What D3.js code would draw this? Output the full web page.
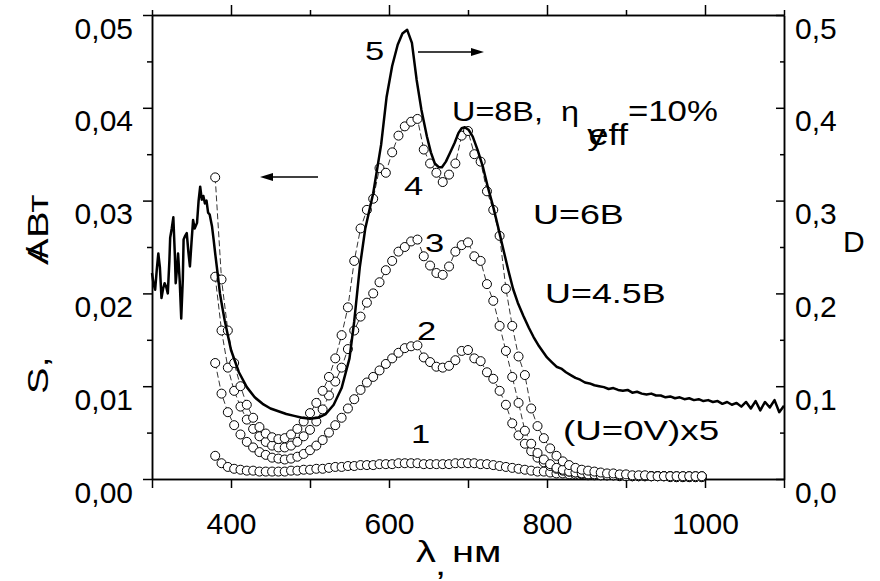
<!DOCTYPE html>
<html lang="ru">
<head>
<meta charset="UTF-8">
<title>Фоточувствительность и оптическая плотность</title>
<script src="https://d3js.org/d3.v7.min.js"></script>
<style>
body { margin: 0; background: #fff; }
svg { display: block; background: #fff; }
text { font-family: "Liberation Sans", Arial, sans-serif; fill: #000; }
</style>
</head>
<body>
<svg id="chart" width="880" height="581"></svg>
<script>

// длины волн для кривых фоточувствительности (кружки), нм
const lambdaPts = [380, 388, 396, 404, 412, 420, 428, 436, 444, 452, 460, 468, 476, 484, 492, 500,
    508, 516, 524, 532, 540, 548, 556, 564, 572, 580, 588, 596, 604, 612, 620, 628, 636, 644, 652, 660,
    668, 676, 684, 692, 700, 708, 716, 724, 732, 740, 748, 756, 764, 772, 780, 788, 796, 804, 812, 820,
    828, 836, 844, 852, 860, 868, 876, 884, 892, 900, 908, 916, 924, 932, 940, 948, 956, 964, 972, 980,
    988, 996];

// кривая 1: U=0V (x5)
const s1 = [0.0025, 0.0017, 0.0013, 0.0011, 0.0010, 0.0009, 0.0009, 0.0008, 0.0008, 0.0008, 0.0008, 0.0008,
    0.0009, 0.0009, 0.0010, 0.0010, 0.0011, 0.0011, 0.0012, 0.0013, 0.0013, 0.0014, 0.0014, 0.0015, 0.0015,
    0.0015, 0.0016, 0.0016, 0.0016, 0.0017, 0.0017, 0.0017, 0.0017, 0.0016, 0.0016, 0.0016, 0.0016, 0.0016,
    0.0017, 0.0017, 0.0017, 0.0017, 0.0016, 0.0016, 0.0015, 0.0014, 0.0013, 0.0012, 0.0011, 0.0010, 0.0009,
    0.0008, 0.0008, 0.0007, 0.0006, 0.0006, 0.0005, 0.0005, 0.0005, 0.0004, 0.0004, 0.0004, 0.0004, 0.0004,
    0.0003, 0.0003, 0.0003, 0.0003, 0.0003, 0.0003, 0.0003, 0.0003, 0.0003, 0.0003, 0.0003, 0.0003, 0.0003, 0.0003];

// кривая 2: U=4.5B
const s2 = [0.0125, 0.0092, 0.0072, 0.0058, 0.0048, 0.0040, 0.0034, 0.0029, 0.0026, 0.0023, 0.0022, 0.0021,
    0.0022, 0.0024, 0.0027, 0.0031, 0.0036, 0.0042, 0.0050, 0.0058, 0.0066, 0.0076, 0.0086, 0.0096, 0.0104,
    0.0110, 0.0117, 0.0124, 0.0130, 0.0136, 0.0141, 0.0143, 0.0144, 0.0131, 0.0126, 0.0121, 0.0120, 0.0122,
    0.0128, 0.0138, 0.0139, 0.0130, 0.0127, 0.0115, 0.0108, 0.0095, 0.0080, 0.0060, 0.0047, 0.0038, 0.0030,
    0.0023, 0.0018, 0.0014, 0.0011, 0.0009, 0.0008, 0.0007, 0.0006, 0.0005, 0.0005, 0.0005, 0.0004, 0.0004,
    0.0004, 0.0004, 0.0003, 0.0003, 0.0003, 0.0003, 0.0003, 0.0003, 0.0003, 0.0002, 0.0002, 0.0002, 0.0002, 0.0002];

// кривая 3: U=6B
const s3 = [0.0218, 0.0160, 0.0120, 0.0095, 0.0078, 0.0064, 0.0054, 0.0046, 0.0040, 0.0036, 0.0034, 0.0034,
    0.0036, 0.0040, 0.0046, 0.0053, 0.0062, 0.0075, 0.0090, 0.0105, 0.0120, 0.0140, 0.0160, 0.0175, 0.0190,
    0.0200, 0.0212, 0.0225, 0.0235, 0.0245, 0.0250, 0.0256, 0.0258, 0.0240, 0.0230, 0.0222, 0.0220, 0.0229,
    0.0245, 0.0252, 0.0255, 0.0240, 0.0235, 0.0210, 0.0192, 0.0165, 0.0138, 0.0110, 0.0082, 0.0052, 0.0038,
    0.0028, 0.0021, 0.0016, 0.0012, 0.0010, 0.0008, 0.0007, 0.0006, 0.0005, 0.0005, 0.0004, 0.0004, 0.0004,
    0.0004, 0.0003, 0.0003, 0.0003, 0.0003, 0.0003, 0.0003, 0.0003, 0.0002, 0.0002, 0.0002, 0.0002, 0.0002, 0.0002];

// кривая 4: U=8B
const s4 = [0.0325, 0.0215, 0.0160, 0.0125, 0.0100, 0.0080, 0.0066, 0.0056, 0.0049, 0.0045, 0.0043, 0.0044,
    0.0048, 0.0054, 0.0062, 0.0071, 0.0082, 0.0095, 0.0110, 0.0130, 0.0155, 0.0185, 0.0235, 0.0270, 0.0290,
    0.0302, 0.0335, 0.0330, 0.0352, 0.0370, 0.0380, 0.0385, 0.0388, 0.0355, 0.0340, 0.0330, 0.0320, 0.0328,
    0.0340, 0.0370, 0.0375, 0.0350, 0.0342, 0.0310, 0.0290, 0.0262, 0.0205, 0.0165, 0.0132, 0.0112, 0.0076,
    0.0057, 0.0044, 0.0033, 0.0025, 0.0019, 0.0015, 0.0012, 0.0010, 0.0009, 0.0008, 0.0007, 0.0006, 0.0006,
    0.0005, 0.0005, 0.0004, 0.0004, 0.0004, 0.0003, 0.0003, 0.0003, 0.0003, 0.0003, 0.0003, 0.0003, 0.0003, 0.0003];

// кривая 5: оптическая плотность D (правая ось)
const lambdaD = [300, 302, 304, 306, 308, 310, 312, 314, 316, 318, 320, 322, 323, 325, 327, 329, 330, 332, 333,
    335, 337, 339, 340, 342, 344, 346, 348, 350, 352, 354, 357, 359, 361, 363, 365, 367, 369, 371, 373, 376,
    378, 380, 383, 386, 389, 392, 396, 400, 410, 420, 430, 440, 450, 460, 470, 480, 490, 500, 510, 520, 530,
    540, 550, 556, 563, 570, 580, 590, 597, 604, 611, 617, 623, 629, 635, 641, 648, 653, 658, 663, 667, 672,
    677, 683, 688, 692, 696, 701, 706, 712, 719, 725, 732, 738, 744, 751, 757, 763, 770, 777, 783, 790, 800,
    806, 812, 818, 824, 830, 836, 842, 848, 854, 860, 866, 872, 878, 884, 890, 896, 902, 908, 914, 920, 926,
    932, 938, 944, 950, 956, 962, 968, 974, 980, 986, 992, 998, 1004, 1010, 1016, 1022, 1028, 1034, 1040,
    1046, 1052, 1058, 1064, 1070, 1076, 1082, 1088, 1094, 1100];
const dValues = [0.222, 0.210, 0.204, 0.225, 0.243, 0.228, 0.195, 0.205, 0.211, 0.207, 0.200, 0.235, 0.260,
    0.270, 0.282, 0.240, 0.211, 0.230, 0.243, 0.215, 0.173, 0.215, 0.258, 0.262, 0.265, 0.245, 0.229, 0.255,
    0.279, 0.270, 0.276, 0.300, 0.315, 0.301, 0.305, 0.297, 0.300, 0.287, 0.285, 0.272, 0.258, 0.243, 0.222,
    0.200, 0.185, 0.171, 0.155, 0.139, 0.115, 0.099, 0.088, 0.081, 0.076, 0.073, 0.070, 0.068, 0.066, 0.065,
    0.066, 0.070, 0.080, 0.098, 0.130, 0.170, 0.228, 0.270, 0.308, 0.360, 0.412, 0.445, 0.468, 0.480, 0.484,
    0.470, 0.430, 0.398, 0.369, 0.352, 0.340, 0.336, 0.336, 0.342, 0.351, 0.362, 0.373, 0.378, 0.379, 0.376,
    0.369, 0.355, 0.336, 0.315, 0.293, 0.272, 0.250, 0.225, 0.205, 0.190, 0.176, 0.163, 0.153, 0.143, 0.131,
    0.126, 0.121, 0.119, 0.115, 0.112, 0.109, 0.107, 0.104, 0.103, 0.101, 0.100, 0.099, 0.097, 0.098, 0.096,
    0.095, 0.096, 0.093, 0.094, 0.092, 0.091, 0.092, 0.090, 0.090, 0.088, 0.089, 0.087, 0.088, 0.086, 0.087,
    0.085, 0.086, 0.084, 0.085, 0.083, 0.084, 0.081, 0.083, 0.080, 0.082, 0.078, 0.083, 0.076, 0.084, 0.074,
    0.083, 0.077, 0.085, 0.072, 0.079];

// метки осей
const xMajor = [400, 600, 800, 1000];
const xMinor = [300, 500, 700, 900, 1100];
const sMajor = [0, 0.01, 0.02, 0.03, 0.04, 0.05];
const sMinor = [0.005, 0.015, 0.025, 0.035, 0.045];
const dMajor = [0, 0.1, 0.2, 0.3, 0.4, 0.5];
const dMinor = [0.05, 0.15, 0.25, 0.35, 0.45];

// размеры
const width = 880;
const height = 581;
const plotL = 152, plotR = 784, plotT = 15, plotB = 479;

const svg = d3.select("#chart")
    .attr("width", width)
    .attr("height", height);

const x = d3.scaleLinear().domain([300, 1100]).range([plotL, plotR]);
const yS = d3.scaleLinear().domain([0, 0.05]).range([plotB, plotT]);
const yD = d3.scaleLinear().domain([0, 0.5]).range([plotB, plotT]);

const comma = f => v => d3.format(f)(v).replace(".", ",");

// оформление осей: шрифт, толщина
function styleAxis(g) {
    g.attr("font-family", null).attr("font-size", 30);
    g.select(".domain").attr("stroke", "#000").attr("stroke-width", 1.5);
    g.selectAll(".tick line").attr("stroke", "#000").attr("stroke-width", 1.5);
    g.selectAll(".tick text").attr("fill", "#000");
}

// нижняя ось
svg.append("g").attr("transform", `translate(0,${plotB})`)
    .call(d3.axisBottom(x).tickValues(xMinor).tickSize(9).tickSizeOuter(0).tickFormat(""))
    .call(styleAxis);
svg.append("g").attr("transform", `translate(0,${plotB})`)
    .call(d3.axisBottom(x).tickValues(xMajor).tickSize(9).tickSizeOuter(0).tickFormat(d3.format("d")))
    .call(styleAxis)
    .call(g => g.selectAll(".tick text").attr("dy", null).attr("y", 55));

// верхняя ось
svg.append("g").attr("transform", `translate(0,${plotT})`)
    .call(d3.axisTop(x).tickValues(xMinor).tickSize(5).tickSizeOuter(0).tickFormat(""))
    .call(styleAxis);
svg.append("g").attr("transform", `translate(0,${plotT})`)
    .call(d3.axisTop(x).tickValues(xMajor).tickSize(10).tickSizeOuter(0).tickFormat(""))
    .call(styleAxis);

// левая ось S
svg.append("g").attr("transform", `translate(${plotL},0)`)
    .call(d3.axisLeft(yS).tickValues(sMinor).tickSize(5).tickSizeOuter(0).tickFormat(""))
    .call(styleAxis);
svg.append("g").attr("transform", `translate(${plotL},0)`)
    .call(d3.axisLeft(yS).tickValues(sMajor).tickSize(9).tickPadding(10).tickSizeOuter(0).tickFormat(comma(".2f")))
    .call(styleAxis)
    .call(g => g.selectAll(".tick text").attr("dy", null).attr("y", 23));

// правая ось D (засечки внутрь)
svg.append("g").attr("transform", `translate(${plotR},0)`)
    .call(d3.axisRight(yD).tickValues(dMinor).tickSize(-4).tickSizeOuter(0).tickFormat(""))
    .call(styleAxis);
svg.append("g").attr("transform", `translate(${plotR},0)`)
    .call(d3.axisRight(yD).tickValues(dMajor).tickSize(-8).tickPadding(11).tickSizeOuter(0).tickFormat(comma(".1f")))
    .call(styleAxis)
    .call(g => g.selectAll(".tick text").attr("dy", null).attr("y", 23));

// кривые с кружками
const series = [s1, s2, s3, s4];
const dotLine = d3.line().x(d => x(d[0])).y(d => yS(d[1]));

series.forEach(vals => {
    const pts = lambdaPts.map((l, i) => [l, vals[i]]);
    const g = svg.append("g");
    g.append("path")
        .attr("d", dotLine(pts))
        .attr("fill", "none")
        .attr("stroke", "#000")
        .attr("stroke-width", 0.8)
        .attr("stroke-dasharray", "6,3");
    g.selectAll("circle")
        .data(pts)
        .enter()
        .append("circle")
        .attr("cx", d => x(d[0]))
        .attr("cy", d => yS(d[1]))
        .attr("r", 4.5)
        .attr("fill", "#fff")
        .attr("stroke", "#000")
        .attr("stroke-width", 1);
});

// кривая 5 - сплошная толстая линия
const dLine = d3.line().x(d => x(d[0])).y(d => yD(d[1]));
svg.append("path")
    .attr("d", dLine(lambdaD.map((l, i) => [l, dValues[i]])))
    .attr("fill", "none")
    .attr("stroke", "#000")
    .attr("stroke-width", 2.5)
    .attr("stroke-linejoin", "round");

// стрелки к осям
function arrow(x1, x2, yy) {
    const dir = Math.sign(x2 - x1);
    svg.append("line")
        .attr("x1", x1).attr("y1", yy).attr("x2", x2 - dir * 8).attr("y2", yy)
        .attr("stroke", "#000").attr("stroke-width", 1.5);
    svg.append("path")
        .attr("d", `M${x2},${yy} L${x2 - dir * 13},${yy - 4} L${x2 - dir * 13},${yy + 4} Z`)
        .attr("fill", "#000");
}
arrow(318, 260, 177);
arrow(418, 484, 52);

// подписи (растянутый по горизонтали шрифт, как в оригинале)
function label(px, py, txt, size, sx) {
    return svg.append("text")
        .attr("transform", `translate(${px},${py}) scale(${sx || 1.33},1)`)
        .attr("font-size", size || 27)
        .text(txt);
}

label(365, 60, "5", 26);
label(404, 195, "4", 26);
label(425, 252, "3", 26);
label(417, 340, "2", 26);
label(411, 443, "1", 26);

// "U=8B, η_eff=10%" одной строкой, индекс - через tspan
const effText = label(452, 121, "U=8B,", 27, 1.2);
effText.append("tspan").attr("dx", 15).text("η");
effText.append("tspan").attr("dx", 7).attr("dy", 24).attr("font-size", 30).text("у");
effText.append("tspan").attr("dx", -14).attr("font-size", 30).text("eff");
effText.append("tspan").attr("dy", -24).attr("font-size", 29).text("=10%");

label(533, 224, "U=6B");
label(545, 303, "U=4.5B");
label(563, 440, "(U=0V)x5", 27, 1.36);

// подпись оси X
label(416, 562, "λ", 30);
label(452, 562, "нм", 30);
label(435, 575, ",", 30);

// подпись левой оси (повернута)
function vlabel(py, txt) {
    svg.append("text")
        .attr("transform", `translate(48,${py}) rotate(-90) scale(1.33,1)`)
        .attr("font-size", 30)
        .text(txt);
}
vlabel(394, "S,");
vlabel(265, "А");
vlabel(258, "/");
vlabel(238, "Вт");

// подпись правой оси
svg.append("text")
    .attr("x", 843)
    .attr("y", 252)
    .attr("font-size", 30)
    .text("D");

</script>
</body>
</html>
